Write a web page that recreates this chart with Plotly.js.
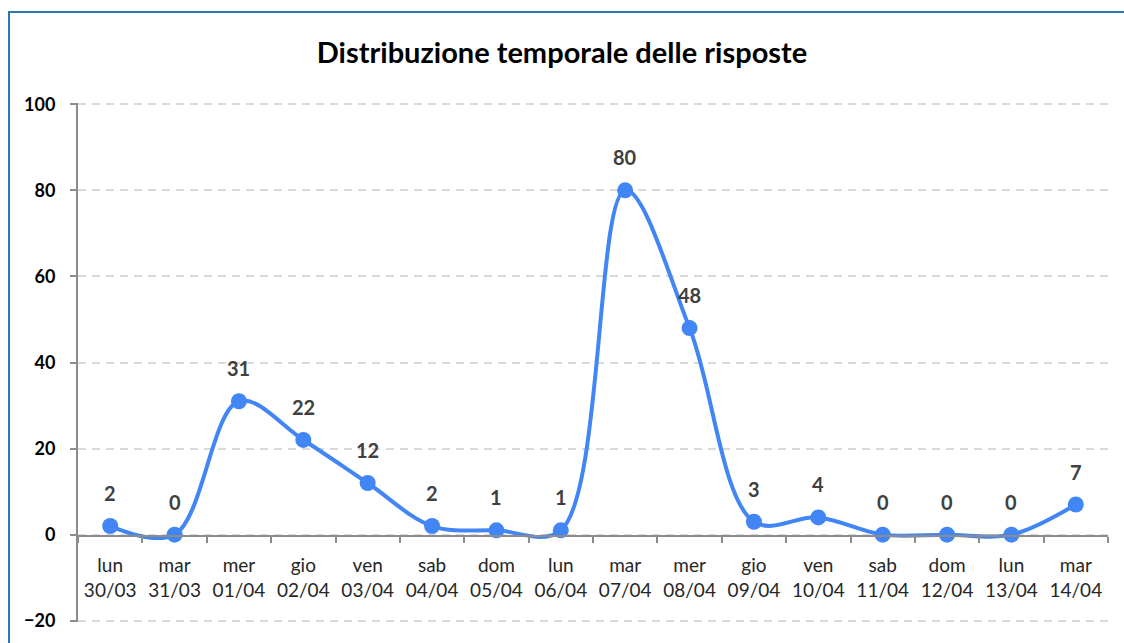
<!DOCTYPE html>
<html>
<head>
<meta charset="utf-8">
<script src="https://cdn.plot.ly/plotly-3.0.1.min.js"></script>
<style>
  html, body { margin:0; padding:0; overflow:hidden; background:#fff; }
  #chart { width:1124px; height:643px; }
  #frame { position:absolute; left:8px; top:11px; width:1200px; height:700px; border:2px solid #2E75B6; pointer-events:none; }
</style>
</head>
<body>
<div id="chart"></div>
<div id="frame"></div>
<script>
const days = ["lun","mar","mer","gio","ven","sab","dom","lun","mar","mer","gio","ven","sab","dom","lun","mar"];
const dates = ["30/03","31/03","01/04","02/04","03/04","04/04","05/04","06/04","07/04","08/04","09/04","10/04","11/04","12/04","13/04","14/04"];
const responses = [2,0,31,22,12,2,1,1,80,48,3,4,0,0,0,7];
const chartTitle = "Distribuzione temporale delle risposte";

const cats = days.map((d,i) => d + "<br>" + dates[i]);
const FONT = "Lato, 'Open Sans', sans-serif";

const trace = {
  x: cats,
  y: responses,
  type: "scatter",
  mode: "lines+markers",
  line: { color: "#4285F4", width: 4, shape: "spline", smoothing: 1 },
  marker: { color: "#4285F4", size: 16 },
  hoverinfo: "x+y"
};

const annotations = responses.map((v,i) => ({
  x: cats[i], y: v, xref: "x", yref: "y",
  text: "<b>" + v + "</b>", showarrow: false, yshift: 33,
  font: { family: FONT, size: 20, color: "#404040" }
}));

const layout = {
  width: 1124, height: 643,
  margin: { l: 78, r: 16, t: 103, b: 21 },
  paper_bgcolor: "#fff", plot_bgcolor: "#fff",
  showlegend: false,
  title: { text: "<b>" + chartTitle + "</b>", x: 0.5, xanchor: "center", y: 0.918, yanchor: "middle",
           font: { family: FONT, size: 29, color: "#000" } },
  xaxis: {
    type: "category",
    anchor: "free", position: 1/6,
    showline: true, linecolor: "#8C8C8C", linewidth: 2,
    ticks: "outside", tickson: "boundaries", ticklen: 6, tickcolor: "#8C8C8C", tickwidth: 2,
    showgrid: false, zeroline: false,
    ticklabelstandoff: 13,
    tickfont: { family: FONT, size: 19, color: "#262626" },
    range: [-0.5, 15.5]
  },
  yaxis: {
    range: [-20.3, 100.3], dtick: 20, tick0: 0,
    showline: true, linecolor: "#8C8C8C", linewidth: 2,
    ticks: "outside", ticklen: 6, tickcolor: "#8C8C8C", tickwidth: 2,
    showgrid: true, gridcolor: "#D9D9D9", griddash: "8px,6px", gridwidth: 2,
    zeroline: false,
    ticklabelstandoff: 11,
    tickfont: { family: FONT, size: 18, color: "#000", weight: "bold" }
  },
  annotations: annotations
};

Plotly.newPlot("chart", [trace], layout, { displayModeBar: false, staticPlot: true });
</script>
</body>
</html>
